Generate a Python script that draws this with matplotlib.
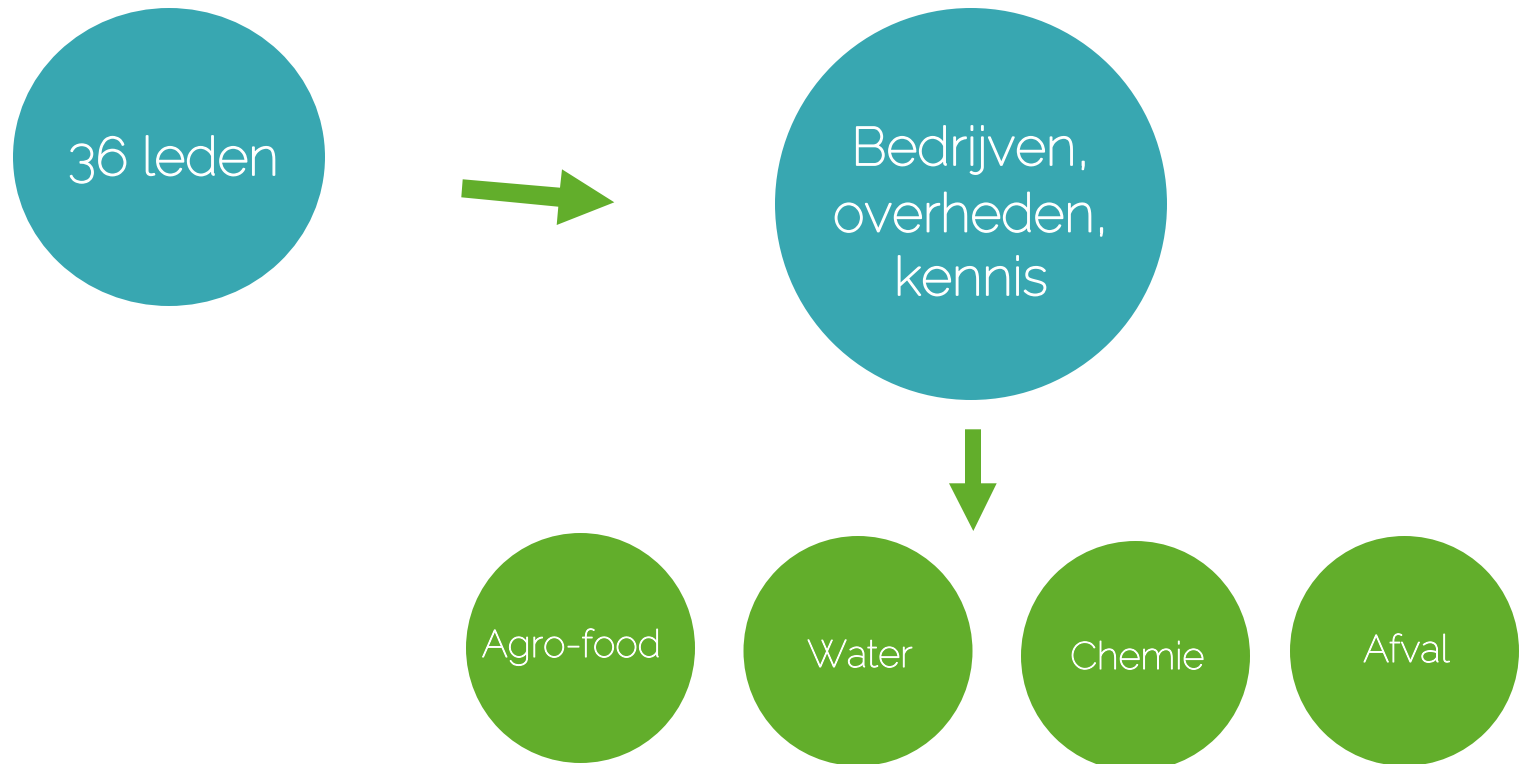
import matplotlib
matplotlib.use("Agg")
import matplotlib.pyplot as plt
from matplotlib.patches import Ellipse, Polygon
import matplotlib.patheffects as pe

# ---- content ----
main_label = "36 leden"
group_lines = ["Bedrijven,", "overheden,", "kennis"]
sectors = ["Agro-food", "Water", "Chemie", "Afval"]

TEAL = "#38A7B1"
GREEN = "#62AE2B"
W, H = 1525, 764

fig = plt.figure(figsize=(W / 100, H / 100), dpi=100)
ax = fig.add_axes([0, 0, 1, 1])
ax.set_xlim(0, W)
ax.set_ylim(H, 0)
ax.axis("off")


def font(stroke):
    return dict(family=["Raleway", "Lato", "DejaVu Sans"], fontweight="normal", color="white",
                path_effects=[pe.withStroke(linewidth=stroke, foreground="white")])


# left teal node
ax.add_patch(Ellipse((169, 157), 312, 298, color=TEAL, lw=0))
ax.text(173.5, 175, main_label, ha="center", va="baseline", fontsize=38.5, **font(1.3))

# arrow right
ax.add_patch(Polygon([(462.7, 179.3), (560, 187.7), (562, 169.3), (614.3, 202.3),
                      (556.7, 225), (558.3, 206.7), (461.3, 197.3)],
                     closed=True, color=GREEN, lw=0))

# big teal node
ax.add_patch(Ellipse((971, 204), 392, 392, color=TEAL, lw=0))
for line, base in zip(group_lines, [165, 231.5, 295]):
    ax.text(971, base, line, ha="center", va="baseline", fontsize=38.5, **font(1.3))

# arrow down
ax.add_patch(Polygon([(965, 429.3), (981, 429.3), (981, 483.3), (996.7, 483.3),
                      (973.3, 531), (949, 483.3), (965, 483.3)],
                     closed=True, color=GREEN, lw=0))

# sector nodes
centers = [(580.5, 648), (858, 651), (1135.5, 656), (1404.5, 651)]
bases = [657, 667, 669, 662]
for name, (cx, cy), b in zip(sectors, centers, bases):
    ax.add_patch(Ellipse((cx, cy), 229, 230, color=GREEN, lw=0))
    ax.text(cx - 9 if name == "Agro-food" else cx + 2, b, name, ha="center", va="baseline",
            fontsize=27.5, **font(0.8))

fig.savefig("out.png", dpi=100, facecolor="white")
